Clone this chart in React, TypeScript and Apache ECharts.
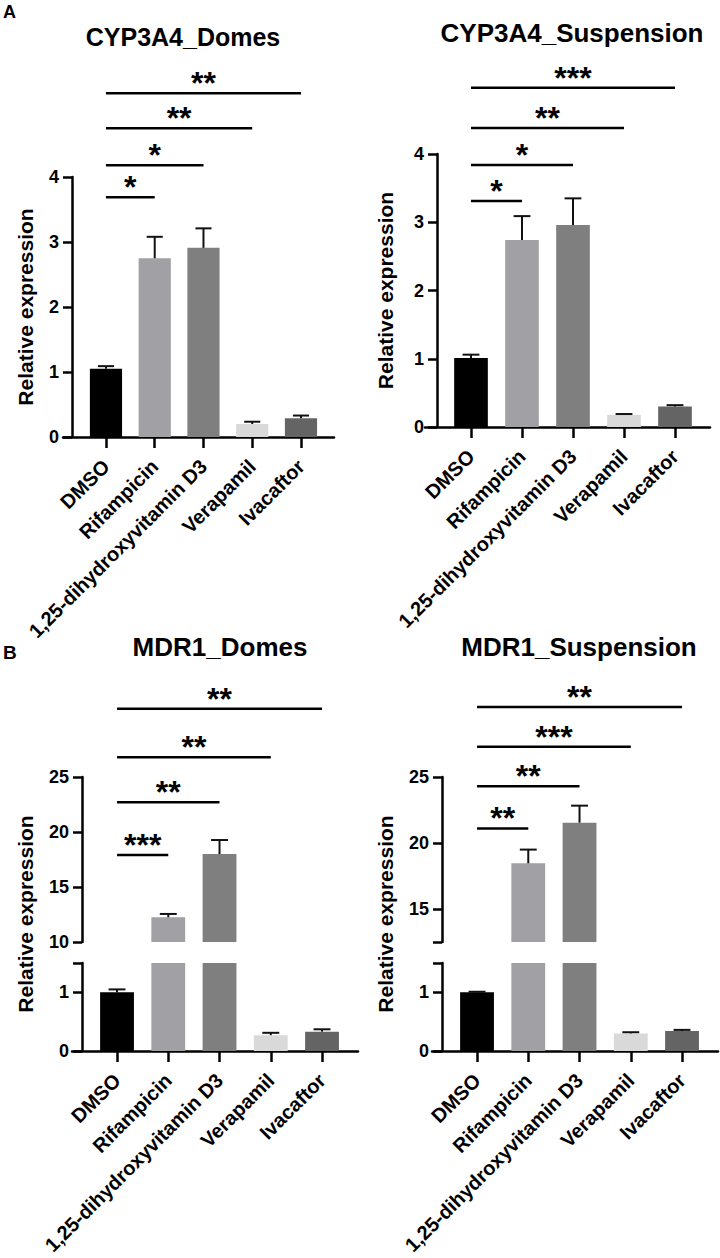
import React, { useEffect, useRef } from 'react';
import * as echarts from 'echarts';

// ---------------- data ----------------
const CATEGORIES = ['DMSO', 'Rifampicin', '1,25-dihydroxyvitamin D3', 'Verapamil', 'Ivacaftor'];
const BAR_COLORS = ['#000000', '#a0a0a5', '#7f7f7f', '#d9d9d9', '#646464'];

const CYP_DOMES_MEAN = [1.05, 2.75, 2.91, 0.2, 0.29];
const CYP_DOMES_ERR = [0.04, 0.33, 0.3, 0.035, 0.04];
const CYP_SUSP_MEAN = [1.01, 2.74, 2.96, 0.18, 0.3];
const CYP_SUSP_ERR = [0.05, 0.35, 0.39, 0.01, 0.02];
const MDR_DOMES_MEAN = [1.0, 12.25, 18.0, 0.27, 0.33];
const MDR_DOMES_ERR = [0.05, 0.3, 1.27, 0.04, 0.04];
const MDR_SUSP_MEAN = [1.0, 18.46, 21.54, 0.3, 0.34];
const MDR_SUSP_ERR = [0.01, 1.04, 1.29, 0.02, 0.02];

// significance brackets: from DMSO (index 0) to the target index, at a bracket level (data units)
const SIG_TO = [1, 2, 3, 4];
const CYP_DOMES_SIG = ['*', '*', '**', '**'];
const CYP_DOMES_SIG_LEVEL = [3.69, 4.18, 4.75, 5.29];
const CYP_SUSP_SIG = ['*', '*', '**', '***'];
const CYP_SUSP_SIG_LEVEL = [3.31, 3.84, 4.38, 4.97];
const MDR_DOMES_SIG = ['***', '**', '**', '**'];
const MDR_DOMES_SIG_LEVEL = [17.9, 22.7, 26.8, 31.2];
const MDR_SUSP_SIG = ['**', '**', '***', '**'];
const MDR_SUSP_SIG_LEVEL = [21.1, 24.3, 27.3, 30.3];

// tick values / labels
const CYP_TICKS = [0, 1, 2, 3, 4];
const MDR_LOWER_TICKS = [0, 1, 1.5];
const MDR_LOWER_LABELS = [0, 1];
const MDR_DOMES_UPPER_TICKS = [10, 15, 20, 25];
const MDR_DOMES_UPPER_LABELS = [10, 15, 20, 25];
const MDR_SUSP_UPPER_TICKS = [12.5, 15, 20, 25];
const MDR_SUSP_UPPER_LABELS = [15, 20, 25];

const Y_NAME = 'Relative expression';

// ---------------- styling ----------------
const FONT = '"Liberation Sans", Arial, Helvetica, sans-serif';
const AXIS_W = 2.5;

function buildOption() {
  const grid: any[] = [];
  const xAxis: any[] = [];
  const yAxis: any[] = [];
  const series: any[] = [];
  const graphic: any[] = [];

  const catAxis = (gi: number, show: boolean) => ({
    type: 'category',
    gridIndex: gi,
    data: CATEGORIES,
    show,
    axisLine: { show: false },
    axisTick: { show: true, alignWithLabel: true, length: 11, lineStyle: { color: '#000', width: AXIS_W } },
    axisLabel: {
      show: true, interval: 0, rotate: 45, margin: 26, color: '#000',
      fontSize: 20, fontWeight: 'bold', fontFamily: FONT,
    },
    splitLine: { show: false },
  });

  const valAxis = (gi: number, min: number, max: number, offset: number, ticks: number[], labels: number[]) => ({
    type: 'value',
    gridIndex: gi,
    min, max, offset,
    axisLine: { show: true, onZero: false, lineStyle: { color: '#000', width: AXIS_W } },
    axisTick: { show: true, length: 9, lineStyle: { color: '#000', width: AXIS_W }, customValues: ticks },
    axisLabel: {
      margin: 13, color: '#000', fontSize: 18, fontWeight: 'bold', fontFamily: FONT,
      customValues: labels,
    },
    splitLine: { show: false },
  });

  const addBaseline = (left: number, width: number, top: number, height: number, nameGap: number) => {
    const gi = grid.length;
    grid.push({ left, width, top, height, containLabel: false });
    xAxis.push({
      type: 'value', gridIndex: gi, min: 0, max: 1,
      axisLine: { show: true, onZero: false, lineStyle: { color: '#000', width: AXIS_W } },
      axisTick: { show: false }, axisLabel: { show: false }, splitLine: { show: false },
    });
    yAxis.push({
      type: 'value', gridIndex: gi, min: 0, max: 1,
      axisLine: { show: false }, axisTick: { show: false }, axisLabel: { show: false }, splitLine: { show: false },
      name: Y_NAME, nameLocation: 'middle', nameGap,
      nameTextStyle: { color: '#000', fontSize: 21, fontWeight: 'bold', fontFamily: FONT },
    });
  };

  const errRender = (params: any, api: any) => {
    const i = api.value(0);
    const v = api.value(1);
    const t = api.value(2);
    const p0 = api.coord([i, v]);
    const p1 = api.coord([i, t]);
    const half = api.size([1, 0])[0] * 0.165;
    return {
      type: 'group',
      children: [
        { type: 'line', shape: { x1: p0[0], y1: p0[1], x2: p1[0], y2: p1[1] }, style: { stroke: '#111', lineWidth: 2 } },
        { type: 'line', shape: { x1: p1[0] - half, y1: p1[1], x2: p1[0] + half, y2: p1[1] }, style: { stroke: '#111', lineWidth: 2 } },
      ],
    };
  };

  const sigRender = (labels: string[]) => (params: any, api: any) => {
    const from = api.value(0);
    const lvl = api.value(1);
    const to = api.value(2);
    const a = api.coord([from, lvl]);
    const b = api.coord([to, lvl]);
    const txt = labels[params.dataIndex];
    return {
      type: 'group',
      children: [
        { type: 'line', shape: { x1: a[0], y1: a[1], x2: b[0], y2: b[1] }, style: { stroke: '#000', lineWidth: 2.5 } },
        {
          type: 'text',
          style: {
            text: txt, x: (a[0] + b[0]) / 2, y: a[1] - 10,
            fill: '#000', font: `bold 32px ${FONT}`,
            align: 'center', verticalAlign: 'middle', textAlign: 'center', textVerticalAlign: 'middle',
          },
        },
      ],
    };
  };

  const addBars = (gi: number, mean: number[], err: number[], keep: (v: number) => boolean) => {
    series.push({
      type: 'bar', xAxisIndex: gi, yAxisIndex: gi, barWidth: '66%', clip: true, silent: true, z: 2,
      data: mean.map((v, i) => ({ value: v, itemStyle: { color: BAR_COLORS[i] } })),
    });
    series.push({
      type: 'custom', xAxisIndex: gi, yAxisIndex: gi, clip: false, silent: true, z: 3,
      encode: { x: 0, y: 1 },
      data: mean.map((v, i) => [i, v, v + err[i]]).filter((d) => keep(d[1])),
      renderItem: errRender,
    });
  };

  const addSig = (gi: number, labels: string[], levels: number[]) => {
    series.push({
      type: 'custom', xAxisIndex: gi, yAxisIndex: gi, clip: false, silent: true, z: 4,
      encode: { x: 0, y: 1 },
      data: levels.map((l, k) => [0, l, SIG_TO[k]]),
      renderItem: sigRender(labels),
    });
  };

  // ---- Panel A left: CYP3A4_Domes ----
  {
    addBaseline(63, 271, 177, 260, 27.5);
    const gi = grid.length;
    grid.push({ left: 81.6, width: 243.75, top: 177, height: 260 });
    xAxis.push(catAxis(gi, true));
    yAxis.push(valAxis(gi, 0, 4, 9.6, CYP_TICKS, CYP_TICKS));
    addBars(gi, CYP_DOMES_MEAN, CYP_DOMES_ERR, () => true);
    addSig(gi, CYP_DOMES_SIG, CYP_DOMES_SIG_LEVEL);
  }
  // ---- Panel A right: CYP3A4_Suspension ----
  {
    addBaseline(425, 285, 154, 273, 29.5);
    const gi = grid.length;
    grid.push({ left: 445.5, width: 255, top: 154, height: 273 });
    xAxis.push(catAxis(gi, true));
    yAxis.push(valAxis(gi, 0, 4, 8.5, CYP_TICKS, CYP_TICKS));
    addBars(gi, CYP_SUSP_MEAN, CYP_SUSP_ERR, () => true);
    addSig(gi, CYP_SUSP_SIG, CYP_SUSP_SIG_LEVEL);
  }
  // ---- Panel B left: MDR1_Domes (broken axis) ----
  {
    addBaseline(72, 286, 777, 274, 36.5);
    const lo = grid.length;
    grid.push({ left: 91.4, width: 256.25, top: 963, height: 88 });
    xAxis.push(catAxis(lo, true));
    yAxis.push(valAxis(lo, 0, 1.5, 9.4, MDR_LOWER_TICKS, MDR_LOWER_LABELS));
    addBars(lo, MDR_DOMES_MEAN, MDR_DOMES_ERR, (v) => v <= 1.5);
    const up = grid.length;
    grid.push({ left: 91.4, width: 256.25, top: 777, height: 165 });
    xAxis.push(catAxis(up, false));
    yAxis.push(valAxis(up, 10, 25, 9.4, MDR_DOMES_UPPER_TICKS, MDR_DOMES_UPPER_LABELS));
    addBars(up, MDR_DOMES_MEAN.map((v) => (v > 1.5 ? v : NaN)), MDR_DOMES_ERR, (v) => v > 1.5);
    addSig(up, MDR_DOMES_SIG, MDR_DOMES_SIG_LEVEL);
  }
  // ---- Panel B right: MDR1_Suspension (broken axis) ----
  {
    addBaseline(432, 286, 777, 274, 36.5);
    const lo = grid.length;
    grid.push({ left: 451.4, width: 256.25, top: 963, height: 88 });
    xAxis.push(catAxis(lo, true));
    yAxis.push(valAxis(lo, 0, 1.5, 9.4, MDR_LOWER_TICKS, MDR_LOWER_LABELS));
    addBars(lo, MDR_SUSP_MEAN, MDR_SUSP_ERR, (v) => v <= 1.5);
    const up = grid.length;
    grid.push({ left: 451.4, width: 256.25, top: 777, height: 165 });
    xAxis.push(catAxis(up, false));
    yAxis.push(valAxis(up, 12.5, 25, 9.4, MDR_SUSP_UPPER_TICKS, MDR_SUSP_UPPER_LABELS));
    addBars(up, MDR_SUSP_MEAN.map((v) => (v > 1.5 ? v : NaN)), MDR_SUSP_ERR, (v) => v > 1.5);
    addSig(up, MDR_SUSP_SIG, MDR_SUSP_SIG_LEVEL);
  }

  const txt = (text: string, x: number, y: number, size: number, align = 'center') => ({
    type: 'text', x, y, silent: true,
    style: {
      text, fill: '#000', font: `bold ${size}px ${FONT}`,
      align, verticalAlign: 'middle', textAlign: align, textVerticalAlign: 'middle',
    },
  });
  graphic.push(txt('A', 3, 12, 18, 'left'));
  graphic.push(txt('B', 3, 652, 19, 'left'));
  graphic.push(txt('CYP3A4_Domes', 183, 37, 25));
  graphic.push(txt('CYP3A4_Suspension', 572, 33, 26));
  graphic.push(txt('MDR1_Domes', 220, 647, 26));
  graphic.push(txt('MDR1_Suspension', 579, 647, 26));

  return {
    animation: false,
    backgroundColor: '#ffffff',
    grid, xAxis, yAxis, series, graphic,
  };
}

export default function App() {
  const ref = useRef<HTMLDivElement>(null);
  useEffect(() => {
    if (!ref.current) return;
    const chart = echarts.init(ref.current, undefined, { renderer: 'svg' });
    chart.setOption(buildOption() as any);
    return () => chart.dispose();
  }, []);
  return (
    <div
      ref={ref}
      style={{ position: 'absolute', left: 0, top: 0, width: 720, height: 1258, background: '#fff' }}
    />
  );
}
